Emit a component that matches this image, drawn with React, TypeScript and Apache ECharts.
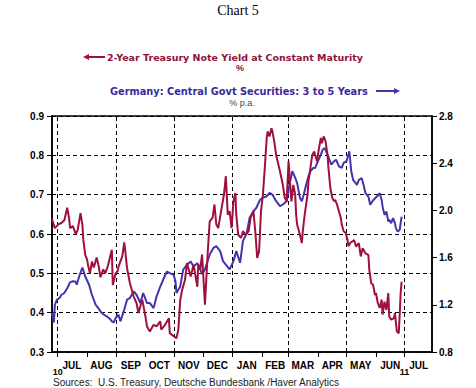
import React, { useEffect, useRef } from "react";
import * as echarts from "echarts";

const usDates = [
  "2010-06-25","2010-06-28","2010-07-02","2010-07-05","2010-07-08","2010-07-11","2010-07-13","2010-07-14",
  "2010-07-17","2010-07-20","2010-07-22","2010-07-25","2010-07-27","2010-07-28","2010-07-30","2010-08-01",
  "2010-08-02","2010-08-04","2010-08-06","2010-08-08","2010-08-11","2010-08-13","2010-08-15","2010-08-18",
  "2010-08-20","2010-08-23","2010-08-25","2010-08-27","2010-08-28","2010-08-31","2010-09-02","2010-09-03",
  "2010-09-07","2010-09-09","2010-09-10","2010-09-12","2010-09-15","2010-09-19","2010-09-22","2010-09-24",
  "2010-09-28","2010-10-01","2010-10-03","2010-10-06","2010-10-10","2010-10-13","2010-10-17","2010-10-18",
  "2010-10-22","2010-10-26","2010-10-27","2010-10-31","2010-11-03","2010-11-05","2010-11-07","2010-11-09",
  "2010-11-12","2010-11-14","2010-11-18","2010-11-21","2010-11-25","2010-11-26","2010-11-28","2010-11-30",
  "2010-12-03","2010-12-06","2010-12-08","2010-12-11","2010-12-13","2010-12-15","2010-12-17","2010-12-20",
  "2010-12-23","2010-12-25","2010-12-27","2010-12-29","2010-12-31","2011-01-02","2011-01-04","2011-01-05",
  "2011-01-07","2011-01-10","2011-01-12","2011-01-15","2011-01-18","2011-01-20","2011-01-23","2011-01-25",
  "2011-01-27","2011-01-29","2011-01-31","2011-02-02","2011-02-04","2011-02-06","2011-02-07","2011-02-09",
  "2011-02-11","2011-02-12","2011-02-14","2011-02-16","2011-02-20","2011-02-23","2011-02-25","2011-02-27",
  "2011-03-01","2011-03-02","2011-03-04","2011-03-06","2011-03-08","2011-03-09","2011-03-10","2011-03-13",
  "2011-03-15","2011-03-16","2011-03-18","2011-03-21","2011-03-22","2011-03-24","2011-03-26","2011-03-28",
  "2011-03-29","2011-03-31","2011-04-02","2011-04-04","2011-04-05","2011-04-07","2011-04-09","2011-04-11",
  "2011-04-12","2011-04-14","2011-04-16","2011-04-18","2011-04-19","2011-04-21","2011-04-23","2011-04-25",
  "2011-04-26","2011-04-28","2011-04-30","2011-05-02","2011-05-03","2011-05-05","2011-05-09","2011-05-11",
  "2011-05-14","2011-05-16","2011-05-18","2011-05-21","2011-05-24","2011-05-25","2011-05-27","2011-05-29",
  "2011-05-31","2011-06-01","2011-06-03","2011-06-05","2011-06-07","2011-06-08","2011-06-10","2011-06-12",
  "2011-06-14","2011-06-15","2011-06-17","2011-06-20","2011-06-21","2011-06-23","2011-06-25","2011-06-26",
  "2011-06-27","2011-06-28"
];
const usYield = [
  0.638,0.615,0.625,0.628,0.635,0.667,0.64,0.615,
  0.62,0.60,0.61,0.653,0.623,0.585,0.547,0.535,
  0.52,0.50,0.53,0.515,0.54,0.52,0.49,0.51,
  0.50,0.52,0.54,0.56,0.47,0.50,0.505,0.517,
  0.543,0.579,0.56,0.513,0.475,0.441,0.424,0.399,
  0.433,0.395,0.365,0.352,0.369,0.365,0.378,0.357,
  0.369,0.386,0.348,0.34,0.335,0.357,0.433,0.458,
  0.483,0.526,0.492,0.522,0.466,0.522,0.51,0.548,
  0.42,0.556,0.632,0.641,0.675,0.624,0.615,0.658,
  0.70,0.747,0.649,0.658,0.615,0.683,0.704,0.649,
  0.598,0.59,0.607,0.598,0.607,0.641,0.658,0.607,
  0.539,0.556,0.658,0.70,0.768,0.844,0.861,0.848,
  0.869,0.861,0.835,0.80,0.759,0.725,0.692,0.683,
  0.785,0.751,0.683,0.725,0.70,0.649,0.624,0.598,
  0.577,0.607,0.649,0.70,0.734,0.768,0.801,0.81,
  0.801,0.785,0.818,0.844,0.831,0.848,0.835,0.801,
  0.768,0.717,0.692,0.683,0.687,0.675,0.658,0.641,
  0.624,0.607,0.603,0.586,0.569,0.577,0.585,0.568,
  0.577,0.543,0.564,0.551,0.547,0.509,0.475,0.471,
  0.445,0.45,0.424,0.412,0.433,0.395,0.428,0.407,
  0.45,0.39,0.382,0.386,0.399,0.352,0.348,0.395,
  0.45,0.479
];

const deDates = [
  "2010-06-25","2010-06-27","2010-06-28","2010-06-30","2010-07-03","2010-07-05","2010-07-08","2010-07-11",
  "2010-07-14","2010-07-17","2010-07-20","2010-07-21","2010-07-24","2010-07-27","2010-07-30","2010-08-03",
  "2010-08-06","2010-08-10","2010-08-13","2010-08-15","2010-08-18","2010-08-22","2010-08-25","2010-08-27",
  "2010-08-29","2010-08-31","2010-09-03","2010-09-05","2010-09-09","2010-09-12","2010-09-15","2010-09-19",
  "2010-09-22","2010-09-26","2010-09-29","2010-10-03","2010-10-06","2010-10-10","2010-10-13","2010-10-17",
  "2010-10-20","2010-10-24","2010-10-27","2010-10-31","2010-11-02","2010-11-03","2010-11-07","2010-11-10",
  "2010-11-14","2010-11-18","2010-11-21","2010-11-25","2010-11-28","2010-11-30","2010-12-03","2010-12-08",
  "2010-12-12","2010-12-15","2010-12-19","2010-12-22","2010-12-25","2010-12-29","2011-01-02","2011-01-05",
  "2011-01-09","2011-01-12","2011-01-16","2011-01-19","2011-01-23","2011-01-26","2011-01-30","2011-02-02",
  "2011-02-06","2011-02-09","2011-02-12","2011-02-16","2011-02-20","2011-02-23","2011-02-27","2011-03-02",
  "2011-03-05","2011-03-08","2011-03-10","2011-03-13","2011-03-15","2011-03-17","2011-03-20","2011-03-22",
  "2011-03-24","2011-03-27","2011-03-29","2011-04-01","2011-04-04","2011-04-06","2011-04-08","2011-04-11",
  "2011-04-13","2011-04-15","2011-04-18","2011-04-20","2011-04-23","2011-04-26","2011-04-28","2011-05-01",
  "2011-05-03","2011-05-04","2011-05-06","2011-05-08","2011-05-12","2011-05-14","2011-05-17","2011-05-19",
  "2011-05-21","2011-05-24","2011-05-26","2011-05-28","2011-05-31","2011-06-02","2011-06-05","2011-06-07",
  "2011-06-08","2011-06-10","2011-06-12","2011-06-14","2011-06-15","2011-06-17","2011-06-19","2011-06-21",
  "2011-06-22","2011-06-24","2011-06-26","2011-06-28"
];
const deYield = [
  1.13,1.05,1.20,1.24,1.26,1.285,1.30,1.34,
  1.39,1.40,1.395,1.37,1.45,1.516,1.44,1.37,
  1.285,1.20,1.17,1.144,1.12,1.10,1.08,1.06,
  1.05,1.088,1.116,1.06,1.158,1.243,1.257,1.313,
  1.285,1.215,1.30,1.215,1.215,1.172,1.27,1.355,
  1.412,1.482,1.469,1.454,1.398,1.30,1.355,1.497,
  1.539,1.567,1.525,1.553,1.50,1.46,1.499,1.626,
  1.683,1.697,1.655,1.57,1.54,1.50,1.57,1.655,
  1.556,1.74,1.81,1.937,1.993,2.02,2.09,2.106,
  2.12,2.148,2.134,2.078,2.036,2.05,2.078,2.219,
  2.332,2.275,2.233,2.106,2.078,2.134,2.233,2.29,
  2.332,2.36,2.36,2.417,2.472,2.515,2.53,2.472,
  2.43,2.388,2.417,2.43,2.374,2.36,2.402,2.417,
  2.472,2.50,2.332,2.258,2.216,2.258,2.273,2.216,
  2.146,2.117,2.047,2.075,2.103,2.117,2.146,2.089,
  2.032,1.962,1.99,1.905,1.92,1.892,1.934,1.892,
  1.85,1.82,1.835,1.948
];

const monthStarts = [
  "2010-07-01","2010-08-01","2010-09-01","2010-10-01","2010-11-01","2010-12-01","2011-01-01",
  "2011-02-01","2011-03-01","2011-04-01","2011-05-01","2011-06-01","2011-07-01"
];
const monthMids = [
  "2010-07-16","2010-08-16","2010-09-16","2010-10-16","2010-11-16","2010-12-16","2011-01-16",
  "2011-02-15","2011-03-16","2011-04-16","2011-05-16","2011-06-16","2011-07-16"
];
const monthLabels = ["JUL","AUG","SEP","OCT","NOV","DEC","JAN","FEB","MAR","APR","MAY","JUN","JUL"];
const yearTicks = ["2010-07-01", "2011-07-01"];
const yearLabels = ["10", "11"];
const gridDates = ["2010-07-01","2010-09-01","2010-11-01","2011-01-01","2011-03-01","2011-05-01","2011-07-01"];
const xMin = "2010-06-25";
const xMax = "2011-07-30";

const RED = "#A0103C";
const BLUE = "#4533AE";
const DASH = [4, 3];
const AX_FONT = "'Liberation Sans', Arial, sans-serif";
const LEG_FONT = "'DejaVu Sans', Verdana, sans-serif";

const ts = (s: string) => Date.UTC(+s.slice(0, 4), +s.slice(5, 7) - 1, +s.slice(8, 10));

export default function App() {
  const ref = useRef<HTMLDivElement>(null);
  useEffect(() => {
    if (!ref.current) return;
    const chart = echarts.init(ref.current, undefined, { renderer: "svg" });
    const midTs = monthMids.map(ts);
    const yearTs = yearTicks.map(ts);
    const nearest = (arr: number[], v: number) => {
      let bi = 0;
      arr.forEach((t, i) => { if (Math.abs(t - v) < Math.abs(arr[bi] - v)) bi = i; });
      return bi;
    };
    const axisLabelStyle = { color: "#000", fontWeight: "bold" as const, fontSize: 10, fontFamily: AX_FONT };
    const option: any = {
      animation: false,
      backgroundColor: "#fff",
      grid: { left: 52, right: 44, top: 116, bottom: 36, show: true, borderColor: "#000", borderWidth: 1.5 },
      xAxis: [
        {
          type: "value",
          min: ts(xMin),
          max: ts(xMax),
          axisLine: { show: true, lineStyle: { color: "#000", width: 1.5 } },
          axisTick: { show: true, customValues: monthStarts.map(ts), length: 5, inside: false, lineStyle: { color: "#000", width: 1 } },
          axisLabel: { ...axisLabelStyle, customValues: midTs, margin: 8, formatter: (v: number) => monthLabels[nearest(midTs, v)] },
          splitLine: { show: false },
        },
        {
          type: "value",
          position: "bottom",
          min: ts(xMin),
          max: ts(xMax),
          axisLine: { show: false },
          axisTick: { show: false },
          axisLabel: { ...axisLabelStyle, fontSize: 9, lineHeight: 9, customValues: yearTs, margin: 15, formatter: (v: number) => yearLabels[nearest(yearTs, v)] },
          splitLine: { show: false },
        },
      ],
      yAxis: [
        {
          type: "value",
          position: "left",
          min: 0.3,
          max: 0.9,
          interval: 0.1,
          axisLine: { show: true, lineStyle: { color: "#000", width: 1.5 } },
          axisTick: { show: true, length: 5, lineStyle: { color: "#000" } },
          axisLabel: { ...axisLabelStyle, margin: 8, formatter: (v: number) => v.toFixed(1) },
          splitLine: { show: true, lineStyle: { color: "#000", width: 1, type: DASH } },
        },
        {
          type: "value",
          position: "right",
          min: 0.8,
          max: 2.8,
          interval: 0.4,
          axisLine: { show: true, lineStyle: { color: "#000", width: 1.5 } },
          axisTick: { show: true, length: 5, lineStyle: { color: "#000" } },
          axisLabel: { ...axisLabelStyle, margin: 7, formatter: (v: number) => v.toFixed(1) },
          splitLine: { show: false },
        },
      ],
      series: [
        {
          name: "Germany: Central Govt Securities: 3 to 5 Years",
          type: "line",
          xAxisIndex: 0,
          yAxisIndex: 1,
          showSymbol: false,
          symbol: "none",
          lineStyle: { color: BLUE, width: 2 },
          data: deDates.map((d, i) => [ts(d), deYield[i]]),
          z: 3,
        },
        {
          name: "2-Year Treasury Note Yield at Constant Maturity",
          type: "line",
          xAxisIndex: 0,
          yAxisIndex: 0,
          showSymbol: false,
          symbol: "none",
          lineStyle: { color: RED, width: 2 },
          data: usDates.map((d, i) => [ts(d), usYield[i]]),
          z: 4,
          markLine: {
            silent: true,
            symbol: ["none", "none"],
            label: { show: false },
            lineStyle: { color: "#000", width: 1, type: DASH },
            emphasis: { disabled: true },
            data: gridDates.map((d) => ({ xAxis: ts(d) })),
            z: 1,
          },
        },
      ],
      graphic: [
        { type: "text", left: "center", top: 3, style: { text: "Chart 5", fontFamily: "'Liberation Serif', 'Times New Roman', serif", fontSize: 14, fill: "#000" } },
        { type: "line", shape: { x1: 85, y1: 57, x2: 105, y2: 57 }, style: { stroke: RED, lineWidth: 2 } },
        { type: "polygon", shape: { points: [[83, 57], [89, 54], [89, 60]] }, style: { fill: RED } },
        { type: "text", x: 107, y: 57, style: { text: "2-Year Treasury Note Yield at Constant Maturity", fontFamily: LEG_FONT, fontWeight: "bold", fontSize: 9.5, fill: "#8E1238", verticalAlign: "middle" } },
        { type: "text", x: 240, y: 68, style: { text: "%", fontFamily: AX_FONT, fontWeight: "bold", fontSize: 9, fill: "#8E1238", align: "center", verticalAlign: "middle" } },
        { type: "text", x: 110, y: 91, style: { text: "Germany: Central Govt Securities: 3 to 5 Years", fontFamily: LEG_FONT, fontWeight: "bold", fontSize: 9.8, fill: "#3B2A9C", verticalAlign: "middle" } },
        { type: "line", shape: { x1: 376, y1: 91, x2: 396, y2: 91 }, style: { stroke: BLUE, lineWidth: 2 } },
        { type: "polygon", shape: { points: [[400, 91], [394, 88], [394, 94]] }, style: { fill: BLUE } },
        { type: "text", x: 242, y: 103, style: { text: "% p.a.", fontFamily: AX_FONT, fontSize: 9, fill: "#444", align: "center", verticalAlign: "middle" } },
        { type: "text", x: 53, y: 382, style: { text: "Sources:  U.S. Treasury, Deutsche Bundesbank /Haver Analytics", fontFamily: AX_FONT, fontSize: 10, lineHeight: 10, fill: "#222", verticalAlign: "middle" } },
      ],
    };
    chart.setOption(option);
    return () => chart.dispose();
  }, []);
  return <div ref={ref} style={{ position: "absolute", left: 0, top: 0, width: 476, height: 388, background: "#fff" }} />;
}
